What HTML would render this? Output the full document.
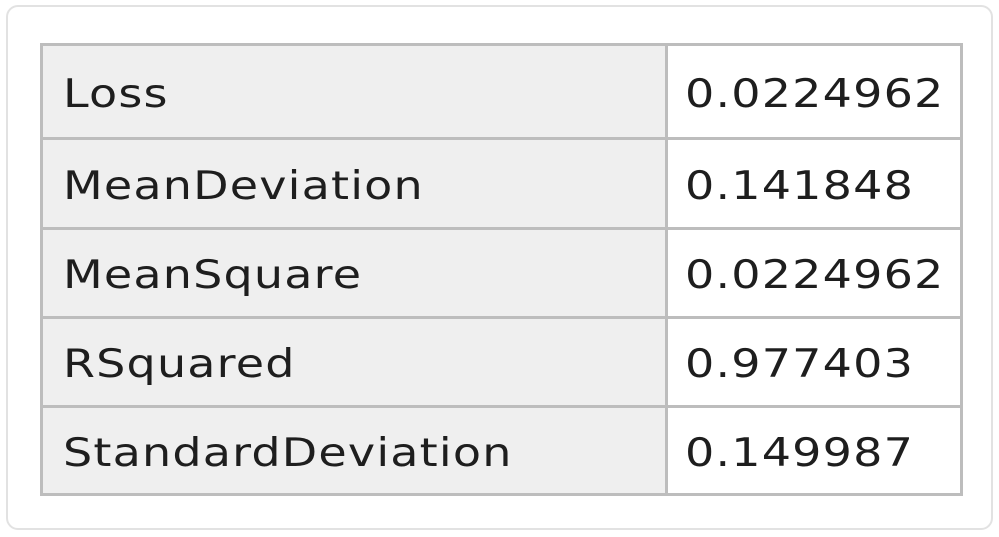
<!DOCTYPE html>
<html><head><meta charset="utf-8"><style>
body{margin:0;width:999px;height:537px;background:#fff;position:relative;overflow:hidden;font-family:"DejaVu Sans","Liberation Sans",sans-serif;}
.outer{position:absolute;left:6px;top:5px;width:983px;height:521px;border:2px solid #e2e2e2;border-radius:12px;}
table{position:absolute;left:40px;top:43px;border-collapse:collapse;border:3px solid #bdbdbd;}
td{border:3px solid #bdbdbd;height:83px;padding:5px 0 0 20px;font-size:39px;letter-spacing:1px;color:#1e1e1e;box-sizing:border-box;vertical-align:middle;white-space:nowrap;}
td span{display:inline-block;transform:scaleX(1.18);transform-origin:left center;}
td.k{background:#efefef;width:625px;}
td.v{background:#fff;width:295px;padding-left:17px;}
</style></head><body>
<div class="outer"></div>
<table>
<tr style="height:94px"><td class="k" style="height:94px"><span>Loss</span></td><td class="v"><span>0.0224962</span></td></tr>
<tr><td class="k" style="height:90px"><span>MeanDeviation</span></td><td class="v"><span>0.141848</span></td></tr>
<tr><td class="k" style="height:89px"><span>MeanSquare</span></td><td class="v"><span>0.0224962</span></td></tr>
<tr><td class="k" style="height:89px"><span>RSquared</span></td><td class="v"><span>0.977403</span></td></tr>
<tr><td class="k" style="height:88px"><span>StandardDeviation</span></td><td class="v"><span>0.149987</span></td></tr>
</table>
</body></html>
